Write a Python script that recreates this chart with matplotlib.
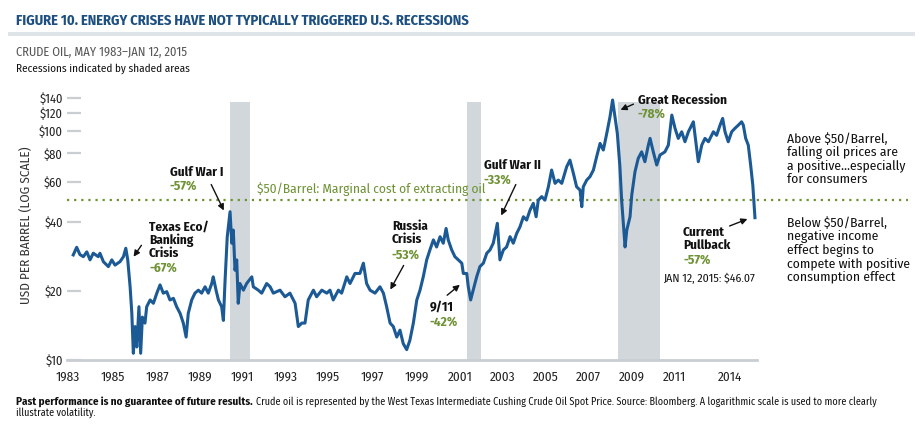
import matplotlib
matplotlib.use("Agg")
import matplotlib.pyplot as plt
from matplotlib.patches import Rectangle, FancyArrowPatch

# ---------------- data ----------------
years = [1983.38, 1983.54, 1983.69, 1983.85, 1984.01, 1984.16, 1984.31, 1984.54, 1984.62, 1984.78,
         1985.01, 1985.17, 1985.32, 1985.55, 1985.71, 1985.82, 1985.91, 1986.02, 1986.10, 1986.17,
         1986.25, 1986.33, 1986.43, 1986.51, 1986.59, 1986.71, 1986.79, 1986.95, 1987.10, 1987.26,
         1987.41, 1987.56, 1987.72, 1987.87, 1988.03, 1988.18, 1988.34, 1988.49, 1988.62, 1988.72,
         1988.88, 1989.03, 1989.19, 1989.34, 1989.50, 1989.65, 1989.81, 1989.88, 1990.01, 1990.12,
         1990.27, 1990.35, 1990.43, 1990.53, 1990.66, 1990.74, 1990.81, 1990.89, 1990.97, 1991.04,
         1991.12, 1991.28, 1991.43, 1991.67, 1991.74, 1991.97, 1992.13, 1992.36, 1992.52, 1992.67,
         1992.98, 1993.21, 1993.44, 1993.68, 1993.83, 1993.99, 1994.14, 1994.29, 1994.53, 1994.68,
         1994.92, 1995.15, 1995.30, 1995.45, 1995.69, 1995.84, 1996.08, 1996.23, 1996.46, 1996.69,
         1996.85, 1997.00, 1997.16, 1997.39, 1997.62, 1997.78, 1997.93, 1998.09, 1998.24, 1998.40,
         1998.55, 1998.70, 1998.86, 1999.01, 1999.17, 1999.33, 1999.48, 1999.63, 1999.79, 1999.94,
         2000.10, 2000.25, 2000.41, 2000.56, 2000.69, 2000.79, 2000.95, 2001.10, 2001.26, 2001.42,
         2001.49, 2001.65, 2001.72, 2001.83, 2001.95, 2002.11, 2002.26, 2002.42, 2002.58, 2002.73,
         2002.88, 2003.07, 2003.19, 2003.35, 2003.50, 2003.66, 2003.81, 2003.97, 2004.12, 2004.28,
         2004.43, 2004.59, 2004.74, 2004.87, 2004.97, 2005.13, 2005.28, 2005.44, 2005.59, 2005.75,
         2005.90, 2006.06, 2006.29, 2006.44, 2006.60, 2006.75, 2006.91, 2006.99, 2007.06, 2007.22,
         2007.37, 2007.53, 2007.68, 2007.84, 2007.99, 2008.15, 2008.30, 2008.42, 2008.53, 2008.64,
         2008.76, 2008.84, 2008.92, 2009.00, 2009.08, 2009.23, 2009.31, 2009.46, 2009.61, 2009.77,
         2009.92, 2010.08, 2010.16, 2010.31, 2010.47, 2010.62, 2010.85, 2011.01, 2011.17, 2011.32,
         2011.47, 2011.63, 2011.78, 2011.94, 2012.17, 2012.40, 2012.56, 2012.71, 2012.87, 2013.10,
         2013.25, 2013.41, 2013.53, 2013.64, 2013.79, 2013.95, 2014.10, 2014.26, 2014.41, 2014.49,
         2014.60, 2014.72, 2014.83, 2014.93, 2014.99, 2015.03]
prices = [28.8, 31.1, 28.9, 28.3, 29.7, 27.4, 29.3, 28.3, 29.3, 26.9,
          25.6, 27.4, 26.0, 26.9, 28.3, 30.8, 27.4, 20.9, 16.0, 10.7,
          14.0, 11.4, 17.1, 10.7, 15.4, 14.5, 17.1, 18.3, 17.7, 19.6,
          21.3, 19.6, 19.9, 18.3, 18.6, 17.1, 16.0, 14.5, 12.6, 16.0,
          18.3, 19.6, 20.2, 19.6, 20.9, 19.6, 21.6, 23.1, 20.2, 18.3,
          17.1, 14.9, 22.4, 34.6, 44.5, 32.4, 37.0, 24.7, 27.4, 17.7,
          21.6, 20.2, 21.6, 23.1, 20.9, 20.2, 19.6, 21.6, 20.9, 19.6,
          20.2, 18.9, 19.6, 17.7, 14.0, 14.5, 14.5, 18.3, 20.2, 18.9,
          20.2, 19.6, 20.2, 18.3, 20.2, 19.6, 23.1, 21.6, 23.9, 23.9,
          26.5, 21.6, 20.2, 19.6, 20.9, 19.6, 17.1, 14.5, 14.0, 12.6,
          13.5, 11.8, 11.1, 12.2, 14.5, 18.3, 20.2, 23.1, 27.4, 30.3,
          33.5, 31.2, 34.6, 32.4, 37.6, 33.5, 30.3, 28.3, 27.4, 26.5,
          23.9, 23.9, 20.9, 18.3, 20.2, 23.1, 25.6, 26.5, 29.3, 30.3,
          32.4, 39.6, 27.4, 30.3, 31.2, 34.6, 32.4, 35.8, 38.2, 42.3,
          40.9, 45.3, 48.4, 42.3, 50.0, 51.8, 50.0, 57.2, 67.7, 59.2,
          61.2, 59.2, 70.0, 74.8, 65.5, 57.2, 55.3, 46.8, 57.2, 61.2,
          63.3, 67.7, 77.4, 88.5, 82.8, 97.9, 115.7, 137.0, 115.7, 97.9,
          70.0, 50.0, 39.6, 31.2, 37.0, 42.3, 52.6, 66.5, 76.1, 81.3,
          73.6, 87.0, 93.1, 81.3, 71.2, 78.7, 81.3, 87.0, 117.7, 103.0,
          93.1, 99.5, 90.0, 99.5, 110.0, 73.6, 87.0, 93.1, 90.0, 99.5,
          96.0, 106.4, 113.8, 99.5, 90.0, 99.5, 103.0, 106.4, 110.0, 106.4,
          93.1, 87.0, 71.2, 58.2, 47.6, 41.9]

recessions = [(1990.66, 1991.59), (2001.66, 2002.31), (2008.67, 2010.62)]
xtick_pos = [1983.14, 1985.23, 1987.27, 1989.27, 1991.22, 1993.26, 1995.21, 1997.25,
             1999.34, 2001.34, 2003.33, 2005.33, 2007.28, 2009.32, 2011.27, 2013.87]
xtick_labels = ["1983", "1985", "1987", "1989", "1991", "1993", "1995", "1997",
                "1999", "2001", "2003", "2005", "2007", "2009", "2011", "2014"]
ytick_vals = [10, 20, 40, 60, 80, 100, 120, 140]
ytick_labels = ["$10", "$20", "$40", "$60", "$80", "$100", "$120", "$140"]
threshold = 50

# ---------------- style ----------------
FONT = ["Fira Sans Condensed", "Roboto Condensed", "DejaVu Sans"]
plt.rcParams["font.family"] = FONT
BLUE = "#1c5a95"
TITLE_BLUE = "#1d4f80"
GREEN = "#6e9234"
SHADE = "#d2d7dc"
AXGRAY = "#c9ced3"

W, H = 923, 432
fig = plt.figure(figsize=(W / 100, H / 100), dpi=100)
fig.patch.set_facecolor("white")

def P(x, y):
    return (x / W, 1 - y / H)

ax = fig.add_axes([67 / W, 72 / H, 690 / W, 269 / H])
ax.set_yscale("log")
ax.set_xlim(1983.09, 2015.125)
ax.set_ylim(10, 150)

for x0, x1 in recessions:
    ax.axvspan(x0, x1, ymin=0, ymax=0.959, color=SHADE, lw=0, zorder=1)

ax.axhline(threshold, xmin=0, xmax=1.219, color=GREEN, lw=1.6,
           linestyle=(0, (1, 2.2)), clip_on=False, zorder=2)

ax.plot(years, prices, color=BLUE, lw=2.2, solid_joinstyle="round", zorder=3)

for s in ["top", "right", "left"]:
    ax.spines[s].set_visible(False)
ax.spines["bottom"].set_color(AXGRAY)
ax.spines["bottom"].set_linewidth(2)

ax.yaxis.set_major_locator(matplotlib.ticker.FixedLocator(ytick_vals))
ax.yaxis.set_minor_locator(matplotlib.ticker.NullLocator())
ax.set_yticklabels(ytick_labels)
ax.tick_params(axis="y", direction="in", length=10, width=1.6, color=AXGRAY,
               labelsize=9, pad=3, labelcolor="#222222")
ax.set_xticks(xtick_pos)
ax.set_xticklabels(xtick_labels)
ax.tick_params(axis="x", length=0, labelsize=9.5, pad=8, labelcolor="#222222")
ax.set_ylabel("USD PER BARREL (LOG SCALE)", fontsize=9.5, color="#333333")
ax.yaxis.set_label_coords(-(67 - 33) / 690, (360 - 225) / 269)

# ---------------- header ----------------
fig.text(*P(16, 21), "FIGURE 10. ENERGY CRISES HAVE NOT TYPICALLY TRIGGERED U.S. RECESSIONS",
         fontsize=10.4, fontweight="bold", color=TITLE_BLUE, va="center", ha="left")
fig.add_artist(Rectangle(P(8, 36), (915 - 8) / W, 4 / H, transform=fig.transFigure,
                         color="#dfe4e9", lw=0))
fig.text(*P(16, 52), "CRUDE OIL, MAY 1983\u2013JAN 12, 2015", fontsize=9,
         color="#555555", va="center", ha="left")
fig.text(*P(16, 69), "Recessions indicated by shaded areas", fontsize=8,
         color="#111111", va="center", ha="left")

# ---------------- annotations ----------------
def label(x, y, txt, color="#111111", weight="bold", size=9.5, ha="left"):
    fig.text(*P(x, y), txt, fontsize=size, fontweight=weight, color=color,
             va="center", ha=ha, linespacing=1.05)

def arrow(x0, y0, x1, y1):
    fig.add_artist(FancyArrowPatch(
        P(x0, y0), P(x1, y1), transform=fig.transFigure, arrowstyle="-|>",
        mutation_scale=9, lw=1.0, color="#111111"))

label(149, 240, "Texas Eco/\nBanking\nCrisis")
label(149, 268, "-67%", color=GREEN)
arrow(143, 243, 132, 259)

label(170, 172, "Gulf War I")
label(170, 186, "-57%", color=GREEN)
arrow(210, 182, 225, 213)

label(257, 189, "$50/Barrel: Marginal cost of extracting oil", color=GREEN,
      weight="normal", size=9.6)

label(392, 233, "Russia\nCrisis")
label(392, 255, "-53%", color=GREEN)
arrow(405, 263, 389, 292)

label(430, 307, "9/11")
label(430, 322, "-42%", color=GREEN)
arrow(445, 297, 462, 283)

label(484, 165, "Gulf War II")
label(484, 180, "-33%", color=GREEN)
arrow(517, 182, 500, 218)

label(638, 100, "Great Recession")
label(638, 114, "-78%", color=GREEN)
arrow(636, 103, 618, 111)

label(683, 239, "Current\nPullback")
label(683, 260, "-57%", color=GREEN)
label(663, 279, "JAN 12, 2015: $46.07", weight="normal", size=8.5)
arrow(727, 227, 750, 218)

label(787, 159, "Above $50/Barrel,\nfalling oil prices are\na positive...especially\nfor consumers",
      weight="normal", size=9.8)
label(787, 250, "Below $50/Barrel,\nnegative income\neffect begins to\ncompete with positive\nconsumption effect",
      weight="normal", size=9.8)

# ---------------- footnote ----------------
t1 = fig.text(*P(16, 402), "Past performance is no guarantee of future results.",
              fontsize=8, fontweight="bold", color="#111111", va="center", ha="left")
fig.canvas.draw()
bb = t1.get_window_extent()
fig.text((bb.x1 + 3) / W, 1 - 402 / H,
         "Crude oil is represented by the West Texas Intermediate Cushing Crude Oil Spot Price. "
         "Source: Bloomberg. A logarithmic scale is used to more clearly",
         fontsize=7.3, color="#111111", va="center", ha="left")
fig.text(*P(16, 413), "illustrate volatility.", fontsize=7.3, color="#111111",
         va="center", ha="left")

fig.savefig("out.png", dpi=100)
